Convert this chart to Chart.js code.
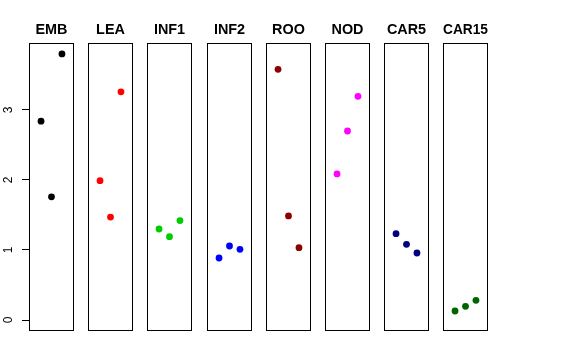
<!DOCTYPE html>
<html>
<head>
<meta charset="utf-8">
<script src="https://cdn.jsdelivr.net/npm/chart.js@4/dist/chart.umd.min.js"></script>
<style>
  html, body { margin: 0; padding: 0; background: #fff; }
  #wrap { position: relative; width: 576px; height: 360px; overflow: hidden; }
  #wrap canvas { position: absolute; top: 0; }
</style>
</head>
<body>
<div id="wrap"></div>
<script>
// ---- data ----
const categories = ['EMB', 'LEA', 'INF1', 'INF2', 'ROO', 'NOD', 'CAR5', 'CAR15'];
const xPositions = [1, 2, 3];
const embValues  = [2.84, 1.76, 3.80];
const leaValues  = [1.99, 1.47, 3.26];
const inf1Values = [1.30, 1.19, 1.42];
const inf2Values = [0.886, 1.057, 1.01];
const rooValues  = [3.58, 1.486, 1.033];
const nodValues  = [2.086, 2.70, 3.195];
const car5Values = [1.233, 1.081, 0.957];
const car15Values = [0.129, 0.196, 0.281];
const yTicks = [0, 1, 2, 3];

// ---- style ----
const seriesValues = [embValues, leaValues, inf1Values, inf2Values, rooValues, nodValues, car5Values, car15Values];
const colors = ['#000000', '#FF0000', '#00CD00', '#0000FF', '#8B0000', '#FF00FF', '#000080', '#006400'];
const FONT = '"Liberation Sans", Arial, Helvetica, sans-serif';
const Y_MIN = -0.157, Y_MAX = 3.957;
const X_MIN = -0.15, X_MAX = 4.15;
const AXIS_W = 29, PANEL_W = 45, PANEL_STEP = 59.17;

const boxPlugin = {
  id: 'panelBox',
  afterDraw(chart) {
    const a = chart.chartArea, ctx = chart.ctx;
    ctx.save();
    ctx.strokeStyle = '#000';
    ctx.lineWidth = 1;
    ctx.strokeRect(Math.round(a.left) + 0.5, Math.round(a.top) + 0.5,
                   Math.round(a.right - a.left) - 1, Math.round(a.bottom - a.top) - 1);
    ctx.restore();
  }
};

const wrap = document.getElementById('wrap');
categories.forEach((cat, i) => {
  const first = i === 0;
  const canvas = document.createElement('canvas');
  const w = PANEL_W + (first ? AXIS_W : 0);
  const left = first ? 0 : Math.round(AXIS_W + i * PANEL_STEP);
  canvas.style.left = left + 'px';
  canvas.style.width = w + 'px';
  canvas.style.height = '360px';
  canvas.width = w; canvas.height = 360;
  wrap.appendChild(canvas);

  const vals = seriesValues[i];
  const yScale = first ? {
    type: 'linear', min: Y_MIN, max: Y_MAX,
    display: true,
    position: 'left',
    afterBuildTicks: (s) => { s.ticks = yTicks.map(v => ({ value: v })); },
    afterFit: (s) => { s.width = AXIS_W; s.paddingTop = 0; s.paddingBottom = 0; },
    border: { display: false },
    grid: { display: true, drawOnChartArea: false, drawTicks: true, tickLength: 7, color: '#000', lineWidth: 1 },
    ticks: {
      color: '#000',
      font: { family: FONT, size: 12 },
      minRotation: 90, maxRotation: 90,
      crossAlign: 'center',
      padding: 10,
      callback: (v) => String(v)
    }
  } : { type: 'linear', min: Y_MIN, max: Y_MAX, display: false };

  new Chart(canvas, {
    type: 'scatter',
    data: {
      datasets: [{
        data: xPositions.map((x, k) => ({ x: x, y: vals[k] })),
        backgroundColor: colors[i],
        borderColor: colors[i],
        pointRadius: 3.4,
        borderWidth: 0
      }]
    },
    options: {
      responsive: false,
      animation: false,
      devicePixelRatio: 1,
      layout: { autoPadding: false, padding: { left: 0, right: 0, top: 0, bottom: 29 } },
      plugins: {
        legend: { display: false },
        tooltip: { enabled: false },
        title: {
          display: true,
          fullSize: false,
          text: cat,
          color: '#000',
          align: 'center',
          font: { family: FONT, size: 14.4, weight: 'bold', lineHeight: 1.2 },
          padding: { top: 21.4, bottom: 4.3 }
        }
      },
      scales: {
        x: { type: 'linear', min: X_MIN, max: X_MAX, display: false },
        y: yScale
      }
    },
    plugins: [boxPlugin]
  });
});
</script>
</body>
</html>
